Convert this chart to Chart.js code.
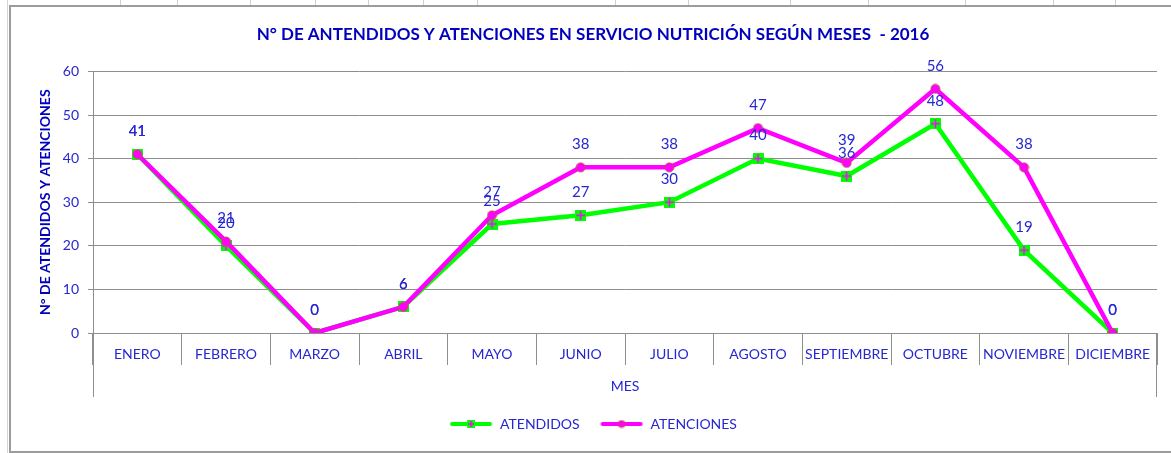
<!DOCTYPE html>
<html>
<head>
<meta charset="utf-8">
<script src="https://cdn.jsdelivr.net/npm/chart.js@4"></script>
<style>
  html, body { margin: 0; padding: 0; background: #fff; }
  #wrap { position: relative; width: 1171px; height: 453px; overflow: hidden; }
  .cell { position: absolute; top: 0; width: 1px; height: 6px; background: #d0d0d0; }
  #sheetLeft { position: absolute; left: 7px; top: 0; width: 1px; height: 453px; background: #d4d4d4; }
  #frame { position: absolute; left: 9px; top: 5px; width: 1200px; height: 444px;
           border-left: 2px solid #9c9c9c; border-top: 2px solid #9c9c9c; border-bottom: 2px solid #9c9c9c;
           background: #fff; }
  #chart { position: absolute; left: 0; top: 0; }
</style>
</head>
<body>
<div id="wrap">
  <div id="sheetLeft"></div>
  <div class="cell" style="left:120px"></div>
  <div class="cell" style="left:177px"></div>
  <div class="cell" style="left:250px"></div>
  <div class="cell" style="left:315px"></div>
  <div class="cell" style="left:368px"></div>
  <div class="cell" style="left:423px"></div>
  <div class="cell" style="left:477px"></div>
  <div class="cell" style="left:615px"></div>
  <div class="cell" style="left:688px"></div>
  <div class="cell" style="left:790px"></div>
  <div class="cell" style="left:868px"></div>
  <div class="cell" style="left:965px"></div>
  <div class="cell" style="left:1053px"></div>
  <div class="cell" style="left:1115px"></div>
  <div id="frame"></div>
  <canvas id="chart" width="1171" height="453"></canvas>
</div>
<script>
// data
const months = ["ENERO", "FEBRERO", "MARZO", "ABRIL", "MAYO", "JUNIO", "JULIO",
                "AGOSTO", "SEPTIEMBRE", "OCTUBRE", "NOVIEMBRE", "DICIEMBRE"];
const atendidos = [41, 20, 0, 6, 25, 27, 30, 40, 36, 48, 19, 0];
const atenciones = [41, 21, 0, 6, 27, 38, 38, 47, 39, 56, 38, 0];
const yTicks = [0, 10, 20, 30, 40, 50, 60];

const BLUE = "#2626d2";
const DARK_BLUE = "#0000be";
const GRID = "#8e8e8e";
const FONT = "Lato, 'Open Sans', sans-serif";

// marker images (Excel style)
function squarePlus(size) {
  const c = document.createElement("canvas");
  c.width = size; c.height = size;
  const g = c.getContext("2d");
  g.fillStyle = "#00ff00";
  g.fillRect(0, 0, size, size);
  g.strokeStyle = "#ff00ff";
  g.lineWidth = 1.5;
  const m = size / 2;
  g.beginPath();
  g.moveTo(m, 1); g.lineTo(m, size - 1);
  g.moveTo(1, m); g.lineTo(size - 1, m);
  g.stroke();
  return c;
}

function dot(size) {
  const c = document.createElement("canvas");
  c.width = size; c.height = size;
  const g = c.getContext("2d");
  g.fillStyle = "#ff00ff";
  g.strokeStyle = "#c0504d";
  g.lineWidth = 1;
  g.beginPath();
  g.arc(size / 2, size / 2, size / 2 - 1, 0, Math.PI * 2);
  g.fill();
  g.stroke();
  return c;
}

function legendSample(color, marker) {
  const c = document.createElement("canvas");
  c.width = 44; c.height = 12;
  const g = c.getContext("2d");
  g.strokeStyle = color;
  g.lineWidth = 4;
  g.lineCap = "round";
  g.beginPath();
  g.moveTo(3, 6); g.lineTo(41, 6);
  g.stroke();
  g.drawImage(marker, 22 - marker.width / 2, 6 - marker.height / 2);
  return c;
}

const markA = squarePlus(11);
const markB = dot(11);
const legendImgs = [legendSample("#00ff00", squarePlus(8)), legendSample("#ff00ff", dot(9))];

// value labels above points
const valueLabels = {
  id: "valueLabels",
  afterDatasetsDraw(chart) {
    const ctx = chart.ctx;
    ctx.save();
    ctx.font = "15px " + FONT;
    ctx.fillStyle = BLUE;
    ctx.textAlign = "center";
    ctx.textBaseline = "middle";
    chart.data.datasets.forEach((ds, i) => {
      chart.getDatasetMeta(i).data.forEach((pt, j) => {
        ctx.fillText(ds.data[j], pt.x, pt.y - 23);
      });
    });
    ctx.restore();
  }
};

// extend the left/right edges below the category row, like Excel
const edgeLines = {
  id: "edgeLines",
  afterDraw(chart) {
    const ctx = chart.ctx;
    const a = chart.chartArea;
    const x = chart.scales.x;
    ctx.save();
    ctx.strokeStyle = GRID;
    ctx.lineWidth = 1;
    ctx.beginPath();
    ctx.moveTo(a.left + 0.5, a.bottom); ctx.lineTo(a.left + 0.5, x.bottom);
    ctx.moveTo(a.right - 0.5, a.bottom); ctx.lineTo(a.right - 0.5, x.bottom);
    ctx.stroke();
    ctx.restore();
  }
};

new Chart(document.getElementById("chart"), {
  type: "line",
  data: {
    labels: months,
    datasets: [
      {
        label: "ATENDIDOS",
        data: atendidos,
        borderColor: "#00ff00",
        backgroundColor: "#00ff00",
        borderWidth: 4.5,
        pointStyle: markA,
        pointRadius: 5,
        tension: 0,
        order: 1
      },
      {
        label: "ATENCIONES",
        data: atenciones,
        borderColor: "#ff00ff",
        backgroundColor: "#ff00ff",
        borderWidth: 4.5,
        pointStyle: markB,
        pointRadius: 5,
        tension: 0,
        order: 0
      }
    ]
  },
  options: {
    responsive: false,
    animation: false,
    layout: { padding: { left: 29, right: 14, top: 0, bottom: 12 } },
    plugins: {
      title: {
        display: true,
        text: "N° DE ANTENDIDOS Y ATENCIONES EN SERVICIO NUTRICIÓN SEGÚN MESES  - 2016",
        color: DARK_BLUE,
        font: { family: FONT, size: 17, weight: "bold" },
        padding: { top: 24, bottom: 27 }
      },
      legend: {
        position: "bottom",
        labels: {
          color: BLUE,
          font: { family: FONT, size: 14 },
          usePointStyle: true,
          pointStyleWidth: 44,
          boxHeight: 12,
          padding: 20,
          sort: (a, b) => a.datasetIndex - b.datasetIndex,
          generateLabels(chart) {
            const items = Chart.defaults.plugins.legend.labels.generateLabels(chart);
            items.forEach(it => { it.pointStyle = legendImgs[it.datasetIndex]; });
            return items;
          }
        }
      },
      tooltip: { enabled: false }
    },
    scales: {
      x: {
        offset: true,
        grid: { offset: true, drawOnChartArea: false, color: GRID, tickLength: 32 },
        border: { color: GRID },
        ticks: { color: BLUE, font: { family: FONT, size: 14 }, padding: -19, maxRotation: 0, autoSkip: false },
        title: { display: true, text: "MES", color: BLUE, font: { family: FONT, size: 14 }, padding: { top: 0, bottom: 2 } },
        afterFit(scale) { scale.height = 64; }
      },
      y: {
        min: 0,
        max: 60,
        afterBuildTicks(scale) { scale.ticks = yTicks.map(v => ({ value: v })); },
        grid: { color: GRID, tickLength: 5 },
        border: { color: GRID },
        ticks: { color: BLUE, font: { family: FONT, size: 14 }, padding: 9 },
        title: { display: true, text: "N° DE ATENDIDOS Y ATENCIONES", color: DARK_BLUE,
                 font: { family: FONT, size: 14, weight: "bold" }, padding: { top: 8, bottom: 0 } },
        afterFit(scale) { scale.width = 64; }
      }
    }
  },
  plugins: [valueLabels, edgeLines]
});
</script>
</body>
</html>
